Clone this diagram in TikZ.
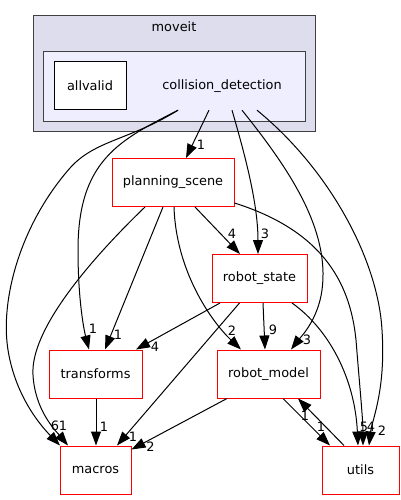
\documentclass[tikz,border=0pt]{standalone}
\usepackage{fontspec}
\setmainfont{DejaVu Sans}
\usetikzlibrary{arrows.meta}

\definecolor{outerfill}{RGB}{221,221,238}
\definecolor{innerfill}{RGB}{238,238,255}

\begin{document}
\begin{tikzpicture}[
    x=1pt, y=-1pt,
    font=\fontsize{12.9}{15}\selectfont,
    cluster/.style={rectangle, draw=black!75, line width=1pt},
    dirbox/.style={rectangle, draw=red, fill=white, line width=1pt, minimum height=48pt, inner sep=0pt},
    plain/.style={rectangle, draw=black, fill=white, line width=1pt, minimum height=48pt, inner sep=0pt},
    dep/.style={-{Triangle[length=14pt, width=10pt]}, line width=1pt},
    lbl/.style={inner sep=0pt}
]
\useasboundingbox (0,0) rectangle (400,500);

% Clusters
\node[cluster, fill=outerfill, minimum width=282pt, minimum height=115pt] (moveit) at (174,73.5) {};
\node (moveitlabel) at (174,27) {moveit};
\node[cluster, fill=innerfill, minimum width=262pt, minimum height=69pt] (cdcluster) at (174,86.5) {};
\node[plain, minimum width=72pt] (allvalid) at (90,86) {allvalid};
\node[minimum width=140pt, minimum height=48pt, inner sep=0pt] (cd) at (222,86) {collision\_detection};

% Directories
\node[dirbox, minimum width=122pt] (ps) at (173,182.5) {planning\_scene};
\node[dirbox, minimum width=95pt] (rs) at (259.5,278.5) {robot\_state};
\node[dirbox, minimum width=93pt] (transforms) at (95.5,374) {transforms};
\node[dirbox, minimum width=103pt] (rm) at (268.5,374) {robot\_model};
\node[dirbox, minimum width=71pt] (macros) at (95.5,470) {macros};
\node[dirbox, minimum width=77pt] (utils) at (360.5,470) {utils};

% collision_detection
\draw[dep] ([xshift=-13pt]cd.south) -- ([xshift=13pt]ps.north) node[lbl, xshift=15pt, yshift=13pt] {1};
\draw[dep] ([xshift=10pt]cd.south) .. controls (242,145) and (258,200) .. ([xshift=-1.5pt]rs.north) node[lbl, xshift=7pt, yshift=20pt] {3};
\draw[dep] ([xshift=20pt]cd.south) .. controls (290,170) and (330,230) .. (322,290) .. controls (318,320) and (300,338) .. ([xshift=22.5pt]rm.north) node[lbl, xshift=16pt, yshift=10pt] {3};
\draw[dep] ([xshift=35pt]cd.south) .. controls (330,170) and (378,260) .. (382,330) .. controls (386,390) and (372,420) .. ([xshift=8.5pt]utils.north) node[lbl, xshift=13pt, yshift=15pt] {2};
\draw[dep] ([xshift=-44pt]cd.south) .. controls (120,140) and (78,160) .. (78,250) .. controls (78,300) and (84,330) .. ([xshift=-6.5pt]transforms.north) node[lbl, xshift=4pt, yshift=21pt] {1};
\draw[dep] ([xshift=-44pt]cd.south) .. controls (130,140) and (95,140) .. (70,168) .. controls (20,225) and (0,300) .. (8,350) .. controls (16,400) and (45,430) .. ([xshift=-35.5pt]macros.north) node[lbl, xshift=-5pt, yshift=20pt] {6};

% planning_scene
\draw[dep] ([xshift=-28pt]ps.south) .. controls (90,260) and (30,330) .. (33,375) .. controls (35,410) and (55,430) .. ([xshift=-27.5pt]macros.north) node[lbl, xshift=-5pt, yshift=20pt] {1};
\draw[dep] ([xshift=-10pt]ps.south) -- ([xshift=9.5pt]transforms.north) node[lbl, xshift=13pt, yshift=15pt] {1};
\draw[dep] ([xshift=22pt]ps.south) -- ([xshift=-19.5pt]rs.north) node[lbl, xshift=-8pt, yshift=20pt] {4};
\draw[dep] ([xshift=1pt]ps.south) .. controls (176,270) and (210,320) .. ([xshift=-27.5pt]rm.north) node[lbl, xshift=-9pt, yshift=19pt] {2};
\draw[dep] ([yshift=4pt]ps.south east) .. controls (320,230) and (350,280) .. (356,340) .. controls (360,390) and (363,420) .. ([xshift=2.5pt]utils.north) node[lbl, xshift=8pt, yshift=19pt] {4};

% robot_state
\draw[dep] ([xshift=-39.5pt]rs.south) -- ([xshift=40.5pt]transforms.north) node[lbl, xshift=19pt, yshift=3pt] {4};
\draw[dep] ([xshift=-20pt]rs.south) -- ([xshift=21.5pt]macros.north) node[lbl, xshift=16pt, yshift=9pt] {1};
\draw[dep] ([xshift=3.5pt]rs.south) -- ([xshift=-3.5pt]rm.north) node[lbl, xshift=8pt, yshift=20pt] {9};
\draw[dep] ([xshift=32.5pt]rs.south) .. controls (330,330) and (355,380) .. ([xshift=-2.5pt]utils.north) node[lbl, xshift=6pt, yshift=19pt] {5};

% transforms, robot_model, utils
\draw[dep] ([xshift=0.5pt]transforms.south) -- ([xshift=0.5pt]macros.north) node[lbl, xshift=8pt, yshift=19pt] {1};
\draw[dep] ([xshift=-41.5pt]rm.south) -- ([yshift=-4pt]macros.north east) node[lbl, xshift=19pt, yshift=3pt] {2};
\draw[dep] ([xshift=14.5pt]rm.south) -- ([xshift=-30.5pt]utils.north) node[lbl, xshift=-9pt, yshift=19pt] {1};
\draw[dep] ([xshift=-16.5pt]utils.north) -- ([xshift=29.5pt]rm.south) node[lbl, xshift=7pt, yshift=-17pt] {1};

\end{tikzpicture}
\end{document}
